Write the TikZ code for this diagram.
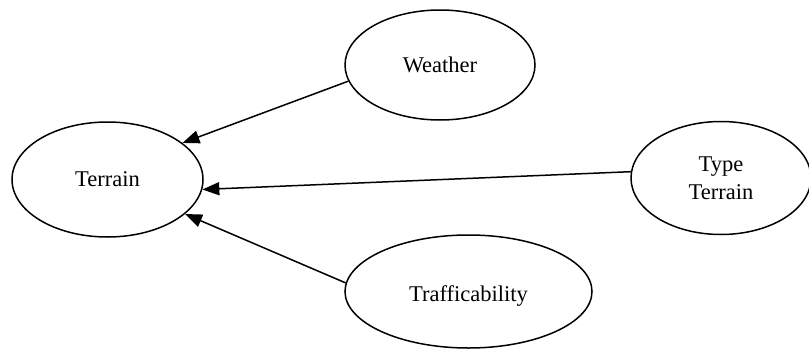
\documentclass[tikz,border=0pt]{standalone}
\usepackage{fontspec}
\setmainfont{Liberation Serif}
\usetikzlibrary{shapes.geometric,arrows.meta}
\begin{document}
\begin{tikzpicture}[x=1pt,y=-1pt,
  bubble/.style={ellipse,draw=black,line width=1.5pt,inner sep=0pt,
    align=center,font=\fontsize{22.5}{28}\selectfont},
  link/.style={line width=1.5pt,-{Triangle[length=17pt,width=13pt]}}]
\useasboundingbox (0,0) rectangle (809,351);
% concept bubbles
\node[bubble,minimum width=191pt,minimum height=115pt] (terrain) at (107.5,179.5) {Terrain};
\node[bubble,minimum width=190pt,minimum height=110pt] (weather) at (440,65) {Weather};
\node[bubble,minimum width=180pt,minimum height=113pt] (type) at (721,178) {Type\\Terrain};
\node[bubble,minimum width=247pt,minimum height=113pt] (traffic) at (468.5,291.5)
  {\raisebox{-5pt}[\height][\depth]{Trafficability}};
% influences on terrain
\draw[link] (weather.190.7) -- (terrain.26.4);
\draw[link] (type.176.8) -- (terrain.-6.3);
\draw[link] (traffic.176) -- (terrain.-24.2);
\end{tikzpicture}
\end{document}
